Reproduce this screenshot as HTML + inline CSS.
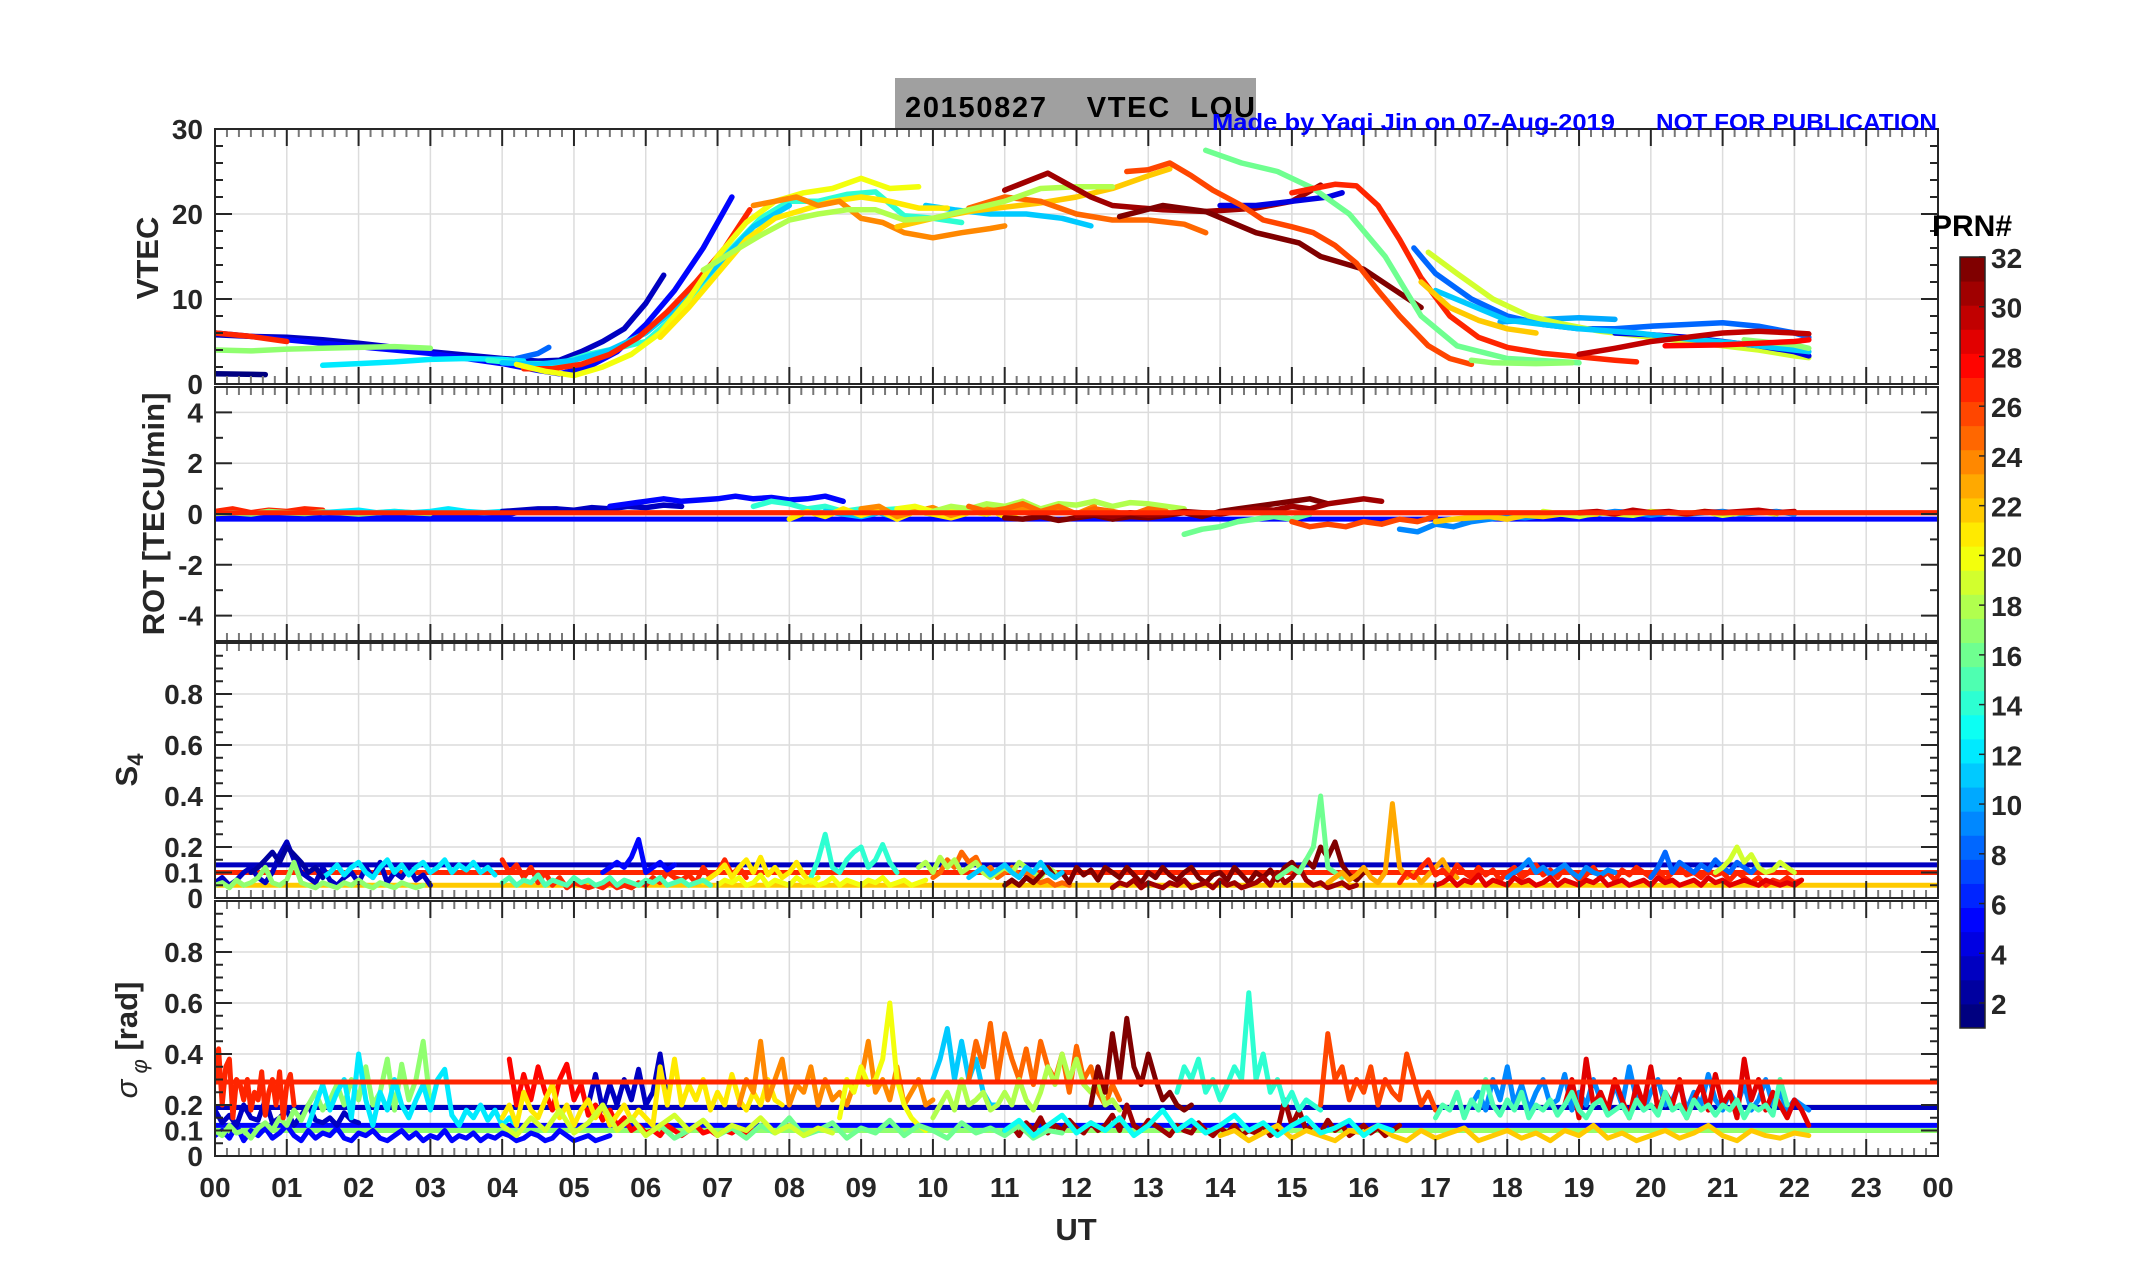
<!DOCTYPE html>
<html><head><meta charset="utf-8">
<style>
html,body{margin:0;padding:0;background:#fff;}
svg{display:block;font-family:"Liberation Sans",Arial,sans-serif;}
.tk{font-weight:bold;font-size:28px;fill:#262626;}
.lab{font-weight:bold;font-size:31px;fill:#262626;}
</style></head>
<body>
<svg id="fig" width="2153" height="1286" viewBox="0 0 2153 1286" xmlns="http://www.w3.org/2000/svg">
  <defs>
    <clipPath id="c0"><rect x="215" y="129" width="1723" height="255"/></clipPath>
    <clipPath id="c1"><rect x="215" y="387" width="1723" height="254"/></clipPath>
    <clipPath id="c2"><rect x="215" y="643" width="1723" height="255"/></clipPath>
    <clipPath id="c3"><rect x="215" y="901" width="1723" height="255"/></clipPath>
  </defs>
  <rect x="895" y="78" width="361" height="53" fill="#a0a0a0"/>
  <text x="905" y="117" font-weight="bold" font-size="29" fill="#000" xml:space="preserve" textLength="350" lengthAdjust="spacing">20150827    VTEC  LOU</text>
  <g id="grids"></g>
  <g id="series"></g>
  <g id="axes"></g>
  <text x="1212" y="130" font-weight="bold" font-size="23" fill="#0000ff" textLength="403" lengthAdjust="spacingAndGlyphs">Made by Yaqi Jin on 07-Aug-2019</text>
  <text x="1656" y="130" font-weight="bold" font-size="23" fill="#0000ff" textLength="281" lengthAdjust="spacingAndGlyphs">NOT FOR PUBLICATION</text>
  <text class="lab" transform="translate(158,258) rotate(-90)" text-anchor="middle">VTEC</text>
  <text class="lab" transform="translate(164,514) rotate(-90)" text-anchor="middle">ROT [TECU/min]</text>
  <text class="lab" transform="translate(137,770) rotate(-90)" text-anchor="middle">S<tspan font-size="22" dy="6" dx="0">4</tspan></text>
  <text class="lab" transform="translate(137,1040) rotate(-90)" text-anchor="middle"><tspan font-style="italic" font-weight="normal">σ</tspan><tspan font-size="22" dy="10" font-style="italic" font-weight="normal"> φ</tspan><tspan dy="-10"> [rad]</tspan></text>
  <text class="lab" x="1076" y="1240" text-anchor="middle">UT</text>
  <text x="1972" y="236" text-anchor="middle" font-weight="bold" font-size="30" fill="#000">PRN#</text>
  <g id="cbar"></g>
</svg>
<script>
// ---------- data ----------
const hourLabels = ["00","01","02","03","04","05","06","07","08","09","10","11","12","13","14","15","16","17","18","19","20","21","22","23","00"];
const cbarTicks = [2,4,6,8,10,12,14,16,18,20,22,24,26,28,30,32];
const vtecTicks = [0,10,20,30];
const rotTicks = [-4,-2,0,2,4];
const s4Ticks = [0,0.1,0.2,0.4,0.6,0.8];
const sigTicks = [0,0.1,0.2,0.4,0.6,0.8];

// VTEC series: PRN, times (h), values (TECU)
const vtecPrn = [1,3,5,8,12,17,27,14,11,11,27,20,21,24,22,25,18,31,32,4,16,26,27,8,10,19,4,11,17,17,30,28,22];
const vtecT = [
 [0,0.7],
 [0,0.5,1,1.5,2,2.5,3,3.5,4,4.5,4.8,5.1,5.4,5.7,6,6.25],
 [0,1,2,3,3.5,4,4.5,4.8,5.2,5.6,6,6.4,6.8,7.2],
 [4.2,4.5,4.65],
 [1.5,2,2.5,3,3.5,4,4.3],
 [0,0.5,1,1.5,2,2.5,3],
 [0,0.5,1],
 [3.8,4.3,4.8,5.2,5.6,6,6.4,6.8,7.2,7.6,8,8.4,8.8,9.2,9.6,10,10.4],
 [4,4.5,5,5.5,6,6.5,7,7.5,8],
 [9.9,10.3,10.8,11.3,11.8,12.2],
 [4.3,4.7,5.1,5.5,5.9,6.3,6.7,7.1,7.45],
 [4.2,4.6,5,5.4,5.8,6.2,6.6,7,7.4,7.8,8.2,8.6,9,9.4,9.8],
 [6.2,6.6,7,7.4,7.8,8.2,8.6,9,9.4,9.8,10.2],
 [7.5,7.8,8.1,8.4,8.7,9,9.3,9.6,10,10.4,10.8,11],
 [9.5,10,10.5,11,11.5,12,12.5,13,13.3],
 [10.5,11,11.5,12,12.5,13,13.5,13.8],
 [6.8,7.2,7.6,8,8.4,8.8,9.2,9.6,10,10.5,11,11.5,12,12.5],
 [11,11.6,12.2,12.5,13.2,13.8,14.5,15,15.4],
 [12.6,13.2,13.8,14.5,15.1,15.4,16,16.8],
 [14,14.5,15,15.5,15.7],
 [13.8,14.3,14.8,15.3,15.8,16.3,16.8,17.3,18,19],
 [12.7,13,13.3,13.6,13.9,14.3,14.6,15,15.3,15.6,15.9,16.2,16.5,16.9,17.2,17.5],
 [15,15.3,15.6,15.9,16.2,16.5,16.8,17.2,17.6,18,18.5,19,19.5,19.8],
 [16.7,17,17.5,18,18.5,19,19.5,20,20.5,21,21.5,22,22.2],
 [17.9,18.5,19,19.5],
 [16.9,17.3,17.8,18.3,18.8,19.3,20,20.5,21,21.5,22,22.2],
 [19.5,20,20.5,21,21.5,22,22.2],
 [17,18,19,19.8,20.5,21.2,22.2],
 [17.5,17.8,18.4,18.9],
 [21.3,22,22.2],
 [19,19.5,20,20.5,21,21.5,22,22.2],
 [20.2,21,21.5,22,22.2],
 [16.8,17.2,17.6,18,18.4]
];
const vtecV = [
 [1.2,1.1],
 [5.8,5.6,5.5,5.2,4.8,4.3,3.8,3.4,3,2.7,2.8,3.8,5,6.5,9.5,12.8],
 [6,5.2,4.4,3.6,3,2.4,1.6,1.2,2,3.8,7,11,16,22],
 [3,3.6,4.3],
 [2.2,2.4,2.6,2.9,3,2.9,2.7],
 [4,3.9,4.1,4.2,4.3,4.4,4.2],
 [6,5.6,5],
 [2.8,2.4,2.4,3.5,4.2,5,8,12,16,19.5,21.5,21.5,22.3,22.6,19.8,19.5,19],
 [2.5,2.3,2.8,4,6,9.5,14,18.5,21],
 [21,20.5,20,20,19.5,18.6],
 [1.8,1.8,2.3,3.5,5.5,8.5,12,16,20.5],
 [2.3,1.5,1,2,3.5,6,10,15,19,21.5,22.5,23,24.2,23,23.2],
 [5.5,9,13,17,19.5,20.5,21.5,22,21.5,20.7,20.7],
 [21,21.5,22,21,21.5,19.5,19,17.8,17.2,17.8,18.3,18.6],
 [18.5,19.5,20.3,20.8,21.3,22,23,24.5,25.3],
 [20.7,22,21.5,20,19.3,19.3,18.8,17.8],
 [13.4,15.5,17.5,19.3,20,20.5,20.5,19.3,19.5,20.5,21.5,23,23.2,23.2],
 [22.8,24.8,22,21,20.5,20.3,20.7,21.5,23.4],
 [19.7,21,20.3,17.8,16.6,15,13.5,9],
 [21,21,21.5,22,22.5],
 [27.5,26,25,23,20,15,8,4.5,3,2.5],
 [25,25.2,26,24.5,22.8,21,19.3,18.5,17.8,16.3,14.2,11,8,4.5,3,2.3],
 [22.5,23,23.5,23.3,21,17,12.5,8,5.5,4.3,3.6,3.2,2.8,2.6],
 [16,13,10,8,7,6.5,6.5,6.8,7,7.2,6.8,6,5.5],
 [7.3,7.6,7.8,7.6],
 [15.5,13,10,8,7,6.2,5.5,5,4.5,4,3.3,3.1],
 [6,5.8,5.5,5,4.5,3.8,3.3],
 [11,7.5,6.5,6,5.3,4.8,3.8],
 [2.8,2.5,2.4,2.5],
 [5.2,4.6,4.2],
 [3.5,4.2,5,5.5,6,6.2,6,5.9],
 [4.5,4.6,4.8,5,5.2],
 [12,9,7.5,6.5,6]
];

// ROT series (TECU/min)
const rotPrn = [5,27,17,12,3,5,14,11,21,24,20,18,25,32,31,16,26,9,22,19,30];
const rotT0 = [0,0,0,1.5,4,5.5,7.5,8.5,8,9,9.5,10,10.5,11,12,13.5,15,16.5,17,18.5,19];
const rotStep = 0.25;
const rotV = [
 [-0.15,-0.1,-0.12,-0.15,-0.1,-0.12,-0.1,-0.15,-0.12,-0.1,-0.12,-0.15,-0.1,-0.12,-0.1,-0.12,-0.1,0.1,0.15,0.2,0.1,0.15,0.2],
 [0.1,0.2,0.05,0.15,0.1,0.2,0.15],
 [0.02,0.05,0,0.1,0.05,0.02,0.08,0.05,0,0.05,0.1,0.05,0.02],
 [0.05,0.1,0.15,0.05,0.1,0.05,0.1,0.2,0.1,0.05,0.1],
 [0.1,0.15,0.2,0.2,0.15,0.25,0.2,0.3,0.25,0.35,0.3],
 [0.3,0.4,0.5,0.6,0.5,0.55,0.6,0.7,0.6,0.65,0.55,0.6,0.7,0.5],
 [0.3,0.5,0.4,0.2,0.3,0.1,0.2,0.15,0.2,0.1],
 [0.1,0,-0.1,0.05,-0.15,0.1,0,-0.1],
 [-0.2,0.1,-0.1,0.2,-0.05,0.15,-0.2,0.1,0,-0.15,0.05,0.2,-0.1,0.1],
 [0.2,0.3,-0.1,0.1,0.25,-0.05,0.15,0.3,0.05,0.2,0.1,0.25,0,0.3],
 [0.2,0.3,0.1,0.25,0.1,0,0.2],
 [0.1,0.3,0.2,0.4,0.3,0.5,0.2,0.4,0.35,0.5,0.3,0.45,0.4,0.3,0.2],
 [0.3,0.1,0.2,0.4,0.1,0.3,0,0.2,0.1,-0.05,0.2,0.1],
 [-0.15,-0.2,-0.1,-0.25,-0.15,-0.05,-0.2,-0.1,-0.15,-0.05,0.05,-0.1,0.1,0.2,0.3,0.4,0.5,0.6,0.4],
 [-0.05,0,-0.1,0.05,-0.05,0,0.1,0.05,0,0.1,0.2,0.15,0.3,0.2,0.4,0.5,0.6,0.5],
 [-0.8,-0.6,-0.5,-0.3,-0.2,-0.1,-0.2,0],
 [-0.3,-0.5,-0.4,-0.5,-0.3,-0.4,-0.2,-0.3,-0.1],
 [-0.6,-0.7,-0.4,-0.5,-0.3,-0.2,-0.1,-0.15,-0.05,0,0.05,0,0.1,0.05,-0.05,0.05,0,0.05,0.1,0,0.05,0.1,0],
 [-0.3,-0.2,-0.15,-0.1,-0.2,-0.05,-0.1,0,-0.05,0],
 [0.1,0,-0.1,0.05,0,-0.05,0.1,0.05,0,0.1,-0.05,0.05,0.1,0],
 [0.05,0.1,0,0.15,0.05,0.1,0,0.1,0.05,0.1,0.15,0.05,0.1]
];
const rotFlatPrn = [27,5];
const rotFlatV = [0.05,-0.2];

// S4 series
const s4Prn = [3,12,17,27,5,2,14,21,25,18,32,31,16,23,27,8,19,11,9,29,15,20];
const s4T0 = [0,1.5,0,4,5.4,0.5,8.3,6.8,10,9.8,11,12.5,14.8,15.5,16.5,20,20.9,10.5,18,17,4,7];
const s4Step = 0.1;
const s4V = [
 [0.06,0.08,0.05,0.07,0.1,0.12,0.08,0.06,0.1,0.17,0.22,0.15,0.1,0.08,0.06,0.12,0.07,0.05,0.08,0.1,0.06,0.12,0.08,0.14,0.06,0.1,0.08,0.12,0.07,0.09,0.05],
 [0.08,0.1,0.13,0.09,0.12,0.14,0.1,0.08,0.12,0.15,0.1,0.13,0.09,0.12,0.14,0.1,0.12,0.15,0.1,0.13,0.11,0.14,0.1,0.12,0.09],
 [0.05,0.06,0.04,0.07,0.05,0.06,0.08,0.12,0.06,0.05,0.07,0.14,0.06,0.05,0.04,0.06,0.05,0.04,0.06,0.05,0.07,0.05,0.04,0.06,0.05,0.04,0.06,0.05,0.04,0.05],
 [0.15,0.1,0.13,0.08,0.12,0.06,0.1,0.05,0.08,0.04,0.06,0.05,0.04,0.05,0.04,0.06,0.04,0.05,0.04,0.06,0.05,0.08,0.06,0.1,0.08,0.07,0.09,0.06,0.12,0.08,0.1,0.15,0.09,0.12,0.08],
 [0.1,0.12,0.14,0.12,0.16,0.23,0.1,0.12,0.14,0.11,0.13],
 [0.1,0.12,0.15,0.18,0.14,0.2,0.17,0.14,0.1,0.12,0.08],
 [0.08,0.15,0.25,0.12,0.1,0.15,0.18,0.2,0.12,0.15,0.21,0.14,0.1],
 [0.06,0.08,0.1,0.13,0.08,0.12,0.15,0.1,0.16,0.09,0.12,0.08,0.1,0.14,0.09,0.06,0.08],
 [0.08,0.1,0.15,0.12,0.18,0.14,0.16,0.1,0.12,0.08,0.1,0.12,0.09,0.1,0.08,0.06,0.07,0.05,0.06,0.05],
 [0.12,0.14,0.1,0.16,0.12,0.15,0.1,0.12,0.14,0.1,0.08,0.1,0.12,0.1,0.14,0.12,0.1,0.08,0.12,0.1],
 [0.05,0.07,0.05,0.08,0.06,0.09,0.12,0.08,0.1,0.06,0.12,0.09,0.11,0.07,0.12,0.1,0.08,0.12,0.09,0.06,0.1,0.08,0.12,0.09,0.07,0.1,0.12,0.08,0.06,0.09,0.1,0.07,0.12,0.09,0.06,0.1,0.08,0.11,0.07,0.12,0.14,0.1,0.15,0.12,0.2,0.16,0.22,0.13,0.09,0.07,0.1],
 [0.04,0.06,0.05,0.07,0.04,0.06,0.05,0.04,0.06,0.05,0.07,0.04,0.05,0.06,0.04,0.07,0.05,0.06,0.04,0.05,0.06,0.08,0.05,0.1,0.06,0.08,0.12,0.07,0.05,0.06,0.04,0.05,0.06,0.04,0.05],
 [0.08,0.1,0.12,0.1,0.15,0.2,0.4,0.12,0.1,0.08],
 [0.06,0.08,0.1,0.07,0.09,0.12,0.08,0.06,0.1,0.37,0.12,0.08,0.1,0.06,0.09,0.12,0.15,0.1,0.08],
 [0.06,0.1,0.08,0.12,0.15,0.09,0.11,0.08,0.13,0.1,0.08,0.12,0.09,0.11,0.07,0.1,0.12,0.08,0.1,0.13,0.09,0.11,0.08,0.12,0.1,0.07,0.09,0.12,0.08,0.1,0.07,0.11,0.09,0.12,0.1,0.08,0.11,0.07,0.1,0.12,0.09,0.1,0.08,0.11,0.09,0.1,0.07,0.1,0.08,0.06,0.08,0.05,0.07,0.06,0.08,0.06,0.07],
 [0.08,0.12,0.18,0.1,0.14,0.12,0.1,0.13,0.11,0.15,0.12,0.1,0.14,0.12,0.1,0.13],
 [0.1,0.12,0.15,0.2,0.14,0.17,0.12,0.1,0.11,0.14,0.12,0.1],
 [0.08,0.1,0.12,0.09,0.11,0.13,0.1,0.08,0.12,0.1,0.14,0.1,0.08,0.1],
 [0.08,0.1,0.12,0.15,0.1,0.12,0.09,0.11,0.13,0.1,0.08,0.12,0.1,0.09,0.11,0.1],
 [0.05,0.06,0.08,0.05,0.07,0.06,0.09,0.05,0.07,0.06,0.05,0.08,0.06,0.07,0.05,0.06,0.08,0.05,0.07,0.06,0.05,0.07,0.06,0.08,0.05,0.06,0.07,0.05,0.06,0.07,0.05,0.08,0.06,0.07,0.05,0.06,0.07,0.05,0.08,0.06,0.07,0.05,0.06,0.07,0.06,0.05,0.07,0.06,0.05,0.06,0.05,0.07],
 [0.06,0.08,0.05,0.07,0.06,0.09,0.05,0.07,0.06,0.05,0.08,0.06,0.07,0.05,0.06,0.08,0.05,0.07,0.06,0.05,0.07,0.06,0.08,0.05,0.06,0.07,0.05,0.06,0.07,0.05],
 [0.05,0.07,0.06,0.08,0.05,0.06,0.09,0.05,0.07,0.06,0.05,0.08,0.06,0.07,0.05,0.06,0.08,0.05,0.07,0.06,0.05,0.07,0.06,0.08,0.05,0.06,0.07,0.05,0.06,0.07]
];
const s4FlatPrn = [3,27,22];
const s4FlatV = [0.13,0.1,0.05];

// Sigma-phi series (rad)
const sigPrn = [5,3,17,12,27,28,3,21,24,20,11,25,18,32,31,14,26,9,29,22,15,16,13,19];
const sigT0 = [0,0,0,1.3,0,4.1,5.2,4,7.3,8.7,10,10.5,10,12.2,11,13.4,15.4,17.5,18.8,14,17,6,11,4];
const sigStep = [0.1,0.1,0.1,0.1,0.05,0.1,0.1,0.1,0.1,0.1,0.1,0.1,0.1,0.1,0.1,0.1,0.1,0.1,0.1,0.2,0.1,0.2,0.2,0.2];
const sigV = [
 [0.08,0.1,0.07,0.12,0.06,0.1,0.08,0.11,0.07,0.09,0.12,0.08,0.06,0.1,0.07,0.09,0.08,0.11,0.07,0.06,0.09,0.08,0.1,0.07,0.06,0.08,0.1,0.07,0.09,0.06,0.08,0.07,0.1,0.06,0.08,0.07,0.09,0.06,0.08,0.07,0.09,0.08,0.06,0.07,0.09,0.08,0.06,0.07,0.1,0.08,0.06,0.07,0.08,0.06,0.07,0.08],
 [0.18,0.13,0.16,0.12,0.2,0.15,0.14,0.22,0.13,0.15,0.18,0.12,0.16,0.2,0.14,0.13,0.15,0.12,0.17,0.14,0.13],
 [0.1,0.08,0.12,0.09,0.1,0.07,0.11,0.13,0.1,0.15,0.12,0.18,0.14,0.2,0.25,0.18,0.22,0.28,0.2,0.3,0.22,0.35,0.2,0.25,0.38,0.18,0.36,0.22,0.3,0.45,0.2],
 [0.12,0.2,0.28,0.18,0.25,0.3,0.15,0.4,0.22,0.12,0.25,0.18,0.3,0.2,0.15,0.22,0.28,0.18,0.3,0.34,0.16,0.12,0.18,0.15,0.2,0.14,0.18,0.12,0.15,0.12],
 [0.29,0.42,0.2,0.35,0.38,0.15,0.3,0.28,0.22,0.3,0.18,0.25,0.22,0.33,0.16,0.25,0.3,0.2,0.33,0.15,0.28,0.32,0.2],
 [0.38,0.2,0.32,0.22,0.35,0.25,0.18,0.3,0.36,0.22,0.28,0.16,0.2,0.14,0.18,0.12,0.15,0.1,0.12,0.09,0.1,0.08,0.12,0.1,0.08,0.1,0.12,0.09,0.1,0.08,0.1,0.09,0.11,0.08,0.1],
 [0.2,0.32,0.18,0.28,0.2,0.3,0.22,0.34,0.2,0.25,0.4,0.22],
 [0.15,0.2,0.12,0.25,0.18,0.15,0.22,0.28,0.15,0.2,0.12,0.18,0.22,0.15,0.2,0.12,0.16,0.2,0.14,0.18,0.15,0.12,0.35,0.2,0.38,0.2,0.28,0.22,0.3,0.18,0.25,0.2,0.32,0.22,0.18,0.25,0.2,0.3,0.22,0.2],
 [0.2,0.3,0.25,0.45,0.22,0.3,0.38,0.2,0.28,0.25,0.35,0.2,0.3,0.22,0.25,0.2,0.28,0.3,0.45,0.25,0.3,0.22,0.35,0.2,0.25,0.3,0.2,0.22],
 [0.15,0.3,0.25,0.35,0.28,0.3,0.38,0.6,0.3,0.2,0.15,0.12,0.1],
 [0.3,0.38,0.5,0.3,0.45,0.3,0.38,0.25,0.2,0.2],
 [0.3,0.45,0.35,0.52,0.3,0.48,0.38,0.3,0.42,0.28,0.45,0.35,0.3,0.4,0.25,0.43,0.3,0.35,0.25,0.2,0.28,0.22],
 [0.15,0.2,0.25,0.18,0.3,0.2,0.22,0.25,0.18,0.2,0.25,0.2,0.3,0.22,0.18,0.25,0.35,0.28,0.4,0.3,0.38,0.28,0.25,0.3,0.2,0.22,0.18],
 [0.2,0.35,0.25,0.48,0.3,0.54,0.35,0.28,0.4,0.3,0.22,0.25,0.2,0.18,0.2],
 [0.1,0.12,0.08,0.13,0.1,0.15,0.09,0.12,0.1,0.14,0.11,0.09,0.13,0.1,0.12,0.16,0.1,0.2,0.12,0.1,0.14,0.12,0.1,0.08,0.12,0.1,0.09,0.13,0.1,0.08,0.11,0.09,0.12,0.08,0.1,0.09,0.12,0.08,0.1,0.22,0.12,0.18,0.1,0.12,0.09,0.14,0.1,0.12,0.08,0.1,0.12,0.09,0.11,0.08,0.1,0.12],
 [0.25,0.35,0.3,0.38,0.25,0.3,0.22,0.28,0.35,0.3,0.64,0.3,0.4,0.25,0.3,0.2,0.25,0.18,0.22,0.2,0.18],
 [0.2,0.48,0.3,0.35,0.22,0.3,0.25,0.35,0.2,0.3,0.25,0.22,0.4,0.3,0.2,0.25,0.18],
 [0.2,0.25,0.18,0.3,0.22,0.35,0.2,0.28,0.18,0.25,0.3,0.2,0.22,0.32,0.18,0.25,0.2,0.3,0.22,0.18,0.28,0.2,0.35,0.22,0.18,0.25,0.3,0.2,0.22,0.28,0.18,0.25,0.2,0.32,0.22,0.18,0.25,0.2,0.28,0.18,0.22,0.3,0.2,0.25,0.18,0.22,0.2,0.18],
 [0.2,0.3,0.15,0.38,0.2,0.25,0.18,0.3,0.22,0.15,0.28,0.2,0.35,0.18,0.25,0.2,0.3,0.15,0.22,0.28,0.18,0.32,0.2,0.25,0.15,0.38,0.22,0.3,0.18,0.25,0.2,0.15,0.22,0.18,0.12],
 [0.08,0.1,0.06,0.09,0.12,0.07,0.1,0.08,0.06,0.1,0.09,0.12,0.08,0.06,0.1,0.07,0.09,0.11,0.06,0.08,0.1,0.07,0.09,0.06,0.1,0.08,0.12,0.07,0.09,0.06,0.08,0.1,0.07,0.09,0.12,0.08,0.06,0.1,0.08,0.07,0.09,0.08],
 [0.15,0.2,0.18,0.25,0.15,0.22,0.18,0.3,0.2,0.16,0.22,0.18,0.25,0.15,0.2,0.18,0.22,0.16,0.2,0.25,0.18,0.15,0.2,0.22,0.16,0.18,0.2,0.15,0.22,0.18,0.2,0.16,0.25,0.18,0.2,0.15,0.22,0.18,0.2,0.16,0.2,0.18,0.22,0.15,0.2,0.18,0.2,0.16,0.3,0.2],
 [0.08,0.12,0.07,0.1,0.14,0.08,0.11,0.07,0.12,0.09,0.15,0.08,0.1,0.13,0.07,0.11,0.09,0.14,0.08,0.12,0.1,0.07,0.13,0.09,0.11,0.08,0.12,0.07,0.1,0.09],
 [0.1,0.14,0.08,0.12,0.16,0.09,0.13,0.1,0.15,0.08,0.12,0.18,0.1,0.14,0.09,0.12,0.16,0.1,0.13,0.08,0.12,0.15,0.09,0.11,0.14,0.08,0.12,0.1],
 [0.12,0.08,0.15,0.1,0.18,0.09,0.13,0.2,0.1,0.15,0.08,0.12,0.16,0.1,0.14,0.08,0.12,0.1,0.15,0.09,0.12,0.08,0.11,0.09]
];
const sigFlatPrn = [27,3,11,5,17];
const sigFlatV = [0.29,0.19,0.1,0.12,0.1];

// ---------- layout ----------
const NS = "http://www.w3.org/2000/svg";
const X0 = 215, X1 = 1938;
const panels = [
  {top:129, bot:384, min:0, max:30, ticks:vtecTicks, minor:2, clip:"c0", name:"vtec"},
  {top:387, bot:641, min:-5, max:5, ticks:rotTicks, minor:1, clip:"c1", name:"rot"},
  {top:643, bot:898, min:0, max:1, ticks:s4Ticks, minor:0.05, clip:"c2", name:"s4"},
  {top:901, bot:1156, min:0, max:1, ticks:sigTicks, minor:0.05, clip:"c3", name:"sigma"}
];
function xs(h){ return X0 + h*(X1-X0)/24; }
function ys(p,v){ return p.bot - (v-p.min)/(p.max-p.min)*(p.bot-p.top); }
function jet(prn){
  const x = (prn-1)/31;
  const c = t => Math.round(255*Math.max(0,Math.min(1,t)));
  return `rgb(${c(1.5-Math.abs(4*x-3))},${c(1.5-Math.abs(4*x-2))},${c(1.5-Math.abs(4*x-1))})`;
}
function mk(tag, attrs, parent){
  const e = document.createElementNS(NS, tag);
  for (const k in attrs) e.setAttribute(k, attrs[k]);
  parent.appendChild(e);
  return e;
}
const G = document.getElementById("grids");
const S = document.getElementById("series");
const A = document.getElementById("axes");
const fmt = v => (Math.abs(v)<1e-9 ? "0" : String(v));

panels.forEach((p,pi)=>{
  mk("rect",{x:X0,y:p.top,width:X1-X0,height:p.bot-p.top,fill:"#fff"},G);
  for (let h=0; h<=24; h++){
    const l = mk("line",{x1:xs(h),x2:xs(h),y1:p.top,y2:p.bot,stroke:"#dcdcdc","stroke-width":1.5},G);
    
    
  }
  p.ticks.forEach(v=>{
    const l = mk("line",{x1:X0,x2:X1,y1:ys(p,v),y2:ys(p,v),stroke:"#dcdcdc","stroke-width":1.5},G);
    
    
  });
  for (let m=0; m<=144; m++){
    const x = xs(m/6), major = (m%6===0);
    const L = major?17:8, col = major?"#262626":"#777";
    mk("line",{x1:x,x2:x,y1:p.top,y2:p.top+L,stroke:col,"stroke-width":2},A);
    mk("line",{x1:x,x2:x,y1:p.bot,y2:p.bot-L,stroke:col,"stroke-width":2},A);
  }
  const nMin = Math.round((p.max-p.min)/p.minor);
  for (let k=0;k<=nMin;k++){
    const v = p.min + k*p.minor, y = ys(p,v);
    const major = p.ticks.some(t=>Math.abs(t-v)<1e-6);
    const L = major?17:8;
    mk("line",{x1:X0,x2:X0+L,y1:y,y2:y,stroke:"#262626","stroke-width":2},A);
    mk("line",{x1:X1,x2:X1-L,y1:y,y2:y,stroke:"#262626","stroke-width":2},A);
  }
  p.ticks.forEach(v=>{
    const t = mk("text",{x:203,y:ys(p,v)+10,"text-anchor":"end",class:"tk"},A);
    t.textContent = fmt(v);
    
    
  });
  const frame = mk("rect",{x:X0,y:p.top,width:X1-X0,height:p.bot-p.top,fill:"none",stroke:"#262626","stroke-width":2},A);
  
  
});
hourLabels.forEach((s,i)=>{
  const t = mk("text",{x:xs(i),y:1197,"text-anchor":"middle",class:"tk"},A);
  t.textContent = s;
  
  
});

function poly(p, pts, prn, w, name){
  const pl = mk("polyline",{points:pts.map(q=>q[0].toFixed(1)+","+q[1].toFixed(1)).join(" "),fill:"none",stroke:jet(prn),"stroke-width":w,"stroke-linejoin":"round","stroke-linecap":"round","clip-path":"url(#"+p.clip+")"},S);
  
  
}
rotFlatPrn.forEach((prn,i)=>poly(panels[1],[[xs(0),ys(panels[1],rotFlatV[i])],[xs(24),ys(panels[1],rotFlatV[i])]],prn,5,'rot-baseline'));
s4FlatPrn.forEach((prn,i)=>poly(panels[2],[[xs(0),ys(panels[2],s4FlatV[i])],[xs(24),ys(panels[2],s4FlatV[i])]],prn,5,'s4-baseline'));
sigFlatPrn.slice(1).forEach((prn,i)=>poly(panels[3],[[xs(0),ys(panels[3],sigFlatV[i+1])],[xs(24),ys(panels[3],sigFlatV[i+1])]],prn,5,'sigma-baseline'));
vtecPrn.forEach((prn,i)=>{
  const pts = vtecT[i].map((t,j)=>[xs(t),ys(panels[0],vtecV[i][j])]);
  poly(panels[0],pts,prn,5.5,'vtec-prn-'+prn);
});
rotPrn.forEach((prn,i)=>{
  const pts = rotV[i].map((v,j)=>[xs(rotT0[i]+j*rotStep),ys(panels[1],v)]);
  poly(panels[1],pts,prn,5.5,'rot-prn-'+prn);
});
s4Prn.forEach((prn,i)=>{
  const pts = s4V[i].map((v,j)=>[xs(s4T0[i]+j*s4Step),ys(panels[2],v)]);
  poly(panels[2],pts,prn,5,'s4-prn-'+prn);
});
sigPrn.forEach((prn,i)=>{
  const pts = sigV[i].map((v,j)=>[xs(sigT0[i]+j*sigStep[i]),ys(panels[3],v)]);
  poly(panels[3],pts,prn,5,'sigma-prn-'+prn);
});
poly(panels[3],[[xs(0),ys(panels[3],sigFlatV[0])],[xs(24),ys(panels[3],sigFlatV[0])]],sigFlatPrn[0],5,'sigma-baseline-top');
poly(panels[1],[[xs(0),ys(panels[1],rotFlatV[0])],[xs(24),ys(panels[1],rotFlatV[0])]],rotFlatPrn[0],5,'rot-baseline-top');

// colorbar
const CB = document.getElementById("cbar");
const cbTop = 257, cbBot = 1028, cbX = 1960, cbW = 25;
for (let k=1;k<=32;k++){
  const y0 = cbTop + (32-k)*(cbBot-cbTop)/32;
  const r = mk("rect",{x:cbX,y:y0,width:cbW,height:(cbBot-cbTop)/32+0.5,fill:jet(k)},CB);
  
  
}
const cbf = mk("rect",{x:cbX,y:cbTop,width:cbW,height:cbBot-cbTop,fill:"none",stroke:"#262626","stroke-width":1.5},CB);


function cbY(v){ return cbTop + (32-v)*(1003-cbTop)/30; }
cbarTicks.forEach(v=>{
  mk("line",{x1:cbX+cbW-6,x2:cbX+cbW,y1:cbY(v),y2:cbY(v),stroke:"#262626","stroke-width":1.5},CB);
  const t = mk("text",{x:cbX+cbW+6,y:cbY(v)+11,class:"tk"},CB);
  t.setAttribute("font-size","30");
  t.textContent = String(v);
  
  
});
</script>
</body></html>
